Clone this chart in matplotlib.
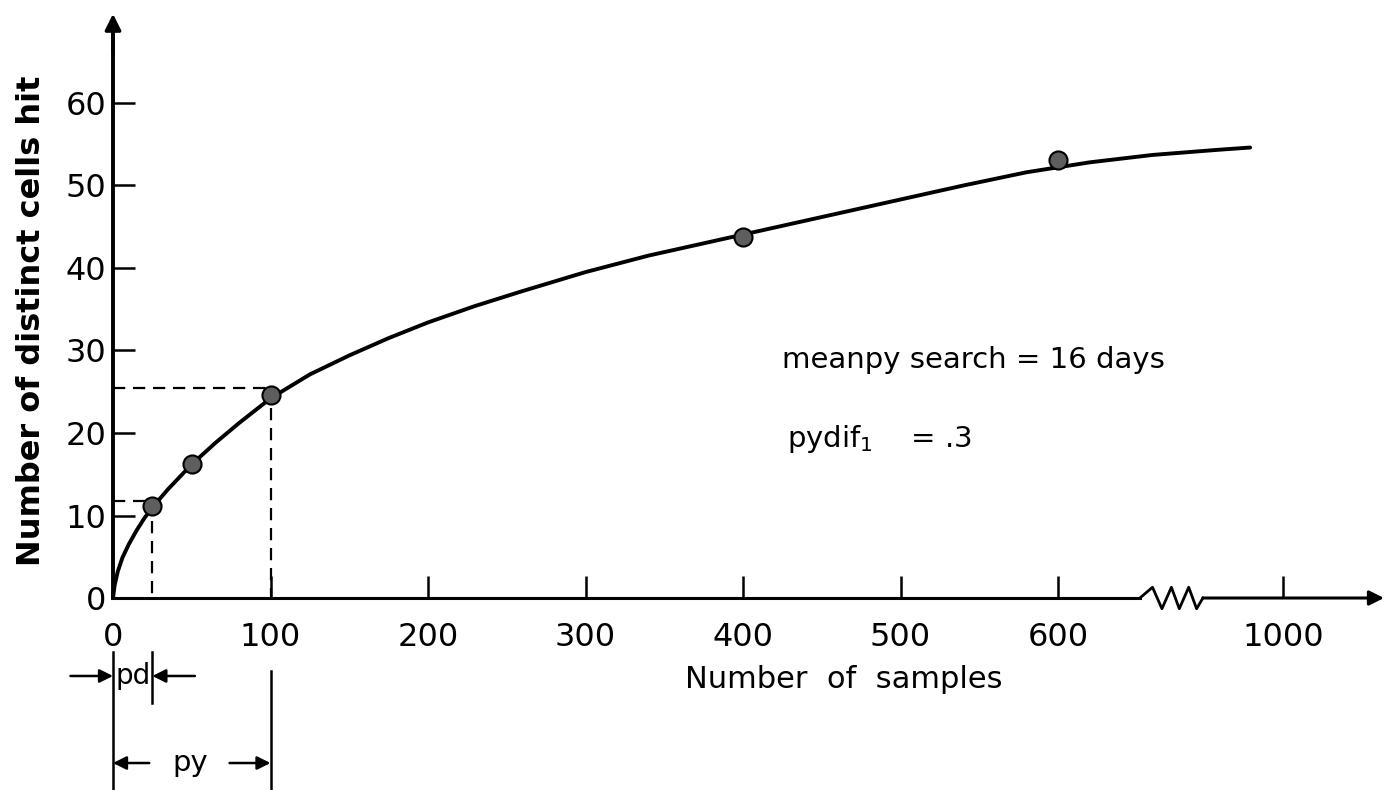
"""
plot.py
-------
Number of distinct cells hit vs. number of samples (hand-drawn style figure).
"""

import matplotlib
matplotlib.use("Agg")
import matplotlib.pyplot as plt

curve_x = [0, 1, 3, 6, 10, 15, 20, 26, 35, 50, 65, 80, 100, 125, 150, 175,
           200, 230, 260, 300, 340, 380, 420, 460, 500, 540, 580, 620, 660,
           700, 722]
curve_y = [0, 1.5, 3.2, 4.9, 6.5, 8.2, 9.7, 11.2, 13.2, 16.2, 18.8, 21.2,
           24.2, 27.1, 29.4, 31.5, 33.4, 35.4, 37.2, 39.5, 41.5, 43.2, 44.9,
           46.6, 48.3, 50.0, 51.6, 52.8, 53.7, 54.3, 54.6]

# sample points
pts_x = [25, 50, 100, 400, 600]
pts_y = [11.2, 16.3, 24.6, 43.8, 53.1]

# guide lines for pd and py
guide_x = [25, 100]
guide_y = [11.7, 25.5]

# axis ticks (the last tick sits after the axis break)
xtick_pos = [0, 100, 200, 300, 400, 500, 600, 743]
xtick_labels = ["0", "100", "200", "300", "400", "500", "600", "1000"]
ytick_pos = [0, 10, 20, 30, 40, 50, 60]

# axis break zigzag
break_x = [652, 660, 666, 672, 677, 683, 688, 692]
break_y = [0, 1.3, -1.3, 1.3, -1.3, 1.3, -1.3, 0]


def main():
    fig = plt.figure(figsize=(13.93, 7.90), dpi=100)
    ax = fig.add_axes([0, 0, 1, 1])
    ax.set_xlim(-71.75, 812.7)
    ax.set_ylim(-23.27, 72.48)

    for side in ("top", "right"):
        ax.spines[side].set_visible(False)
    ax.spines["left"].set_position(("data", 0))
    ax.spines["bottom"].set_position(("data", 0))
    ax.spines["left"].set_bounds(0, 70)
    ax.spines["bottom"].set_bounds(0, break_x[0])
    ax.spines["left"].set_linewidth(2.8)
    ax.spines["bottom"].set_linewidth(2.2)

    ax.set_xticks(xtick_pos, xtick_labels)
    ax.set_yticks(ytick_pos)
    ax.tick_params(direction="in", length=16, width=1.8, labelsize=23)
    ax.tick_params(axis="x", pad=17)
    ax.tick_params(axis="y", pad=5)

    # rest of the x axis past the break, with arrow
    ax.plot(break_x, break_y, color="k", lw=2.0)
    ax.annotate("", xy=(807, 0), xytext=(break_x[-1], 0),
                arrowprops=dict(arrowstyle="-|>", color="k", lw=2.2,
                                mutation_scale=22, shrinkA=0, shrinkB=0))
    # arrow on top of y axis
    ax.annotate("", xy=(0, 70.8), xytext=(0, 66),
                arrowprops=dict(arrowstyle="-|>", color="k", lw=2.5,
                                mutation_scale=24, shrinkA=0, shrinkB=0))

    ax.set_xlabel("Number  of  samples", fontsize=22)
    ax.xaxis.set_label_coords(0.606, 0.158)
    ax.set_ylabel("Number of distinct cells hit", fontsize=23,
                  fontweight="bold")
    ax.yaxis.set_label_coords(0.034, 0.594)

    # dashed guides
    dash = (0, (5.5, 3.5))
    for gx, gy in zip(guide_x, guide_y):
        ax.plot([0, gx], [gy, gy], color="k", lw=1.6, ls=dash)
        ax.plot([gx, gx], [gy, 0], color="k", lw=1.6, ls=dash)

    # curve and points
    ax.plot(curve_x, curve_y, color="k", lw=2.8, solid_capstyle="round",
            solid_joinstyle="round")
    ax.plot(pts_x, pts_y, "o", ms=13, mfc="#5e5e5e", mec="k", mew=1.5)

    # brackets below the axis
    ax.plot([0, 0], [-6.5, -23.3], color="k", lw=1.8)
    ax.plot([guide_x[0]] * 2, [-6.5, -12.7], color="k", lw=1.8)
    ax.plot([guide_x[1]] * 2, [-8.8, -23.3], color="k", lw=1.8)

    arrow = dict(arrowstyle="-|>", color="k", lw=1.8, mutation_scale=20,
                 shrinkA=0, shrinkB=0)
    ax.annotate("", xy=(0, -9.45), xytext=(-27, -9.45), arrowprops=arrow)
    ax.annotate("", xy=(guide_x[0], -9.45), xytext=(52, -9.45), arrowprops=arrow)
    ax.text(guide_x[0] / 2, -9.45, "pd", fontsize=20, ha="center", va="center")

    ax.annotate("", xy=(0, -20), xytext=(23, -20), arrowprops=arrow)
    ax.annotate("", xy=(guide_x[1], -20), xytext=(74, -20), arrowprops=arrow)
    ax.text(49, -20, "py", fontsize=21, ha="center", va="center")

    ax.text(425, 27.9, "meanpy search = 16 days", fontsize=21, va="baseline")
    ax.text(428, 18.3, "pydif$_1$    = .3", fontsize=21, va="baseline")

    fig.savefig("out.png", dpi=100)


if __name__ == "__main__":
    main()
